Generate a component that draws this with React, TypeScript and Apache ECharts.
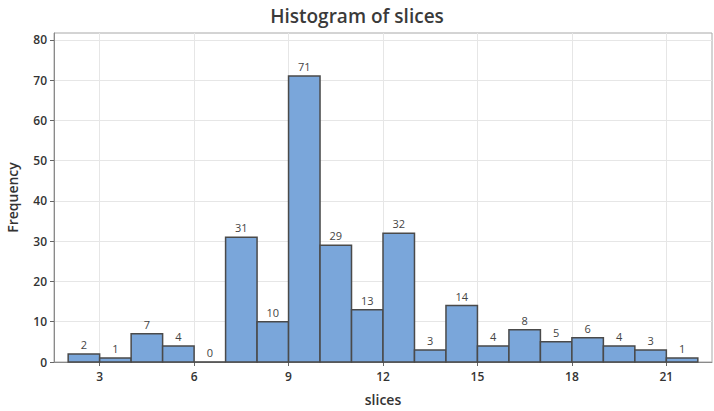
import React, { useEffect, useRef } from "react";
import * as echarts from "echarts";

const binEdges = [2, 3, 4, 5, 6, 7, 8, 9, 10, 11, 12, 13, 14, 15, 16, 17, 18, 19, 20, 21, 22];
const counts = [2, 1, 7, 4, 0, 31, 10, 71, 29, 13, 32, 3, 14, 4, 8, 5, 6, 4, 3, 1];
const xTicks = [3, 6, 9, 12, 15, 18, 21];
const yTicks = [0, 10, 20, 30, 40, 50, 60, 70, 80];

export default function App() {
  const ref = useRef<HTMLDivElement>(null);
  useEffect(() => {
    if (!ref.current) return;
    const chart = echarts.init(ref.current, null, { renderer: "svg" });
    const data = counts.map((c, i) => [binEdges[i], binEdges[i + 1], c]);
    const font = '"Open Sans", "Noto Sans", sans-serif';
    chart.setOption({
      animation: false,
      backgroundColor: "#ffffff",
      title: {
        text: "Histogram of slices",
        left: "center",
        top: 1,
        textStyle: { fontFamily: font, fontSize: 19, fontWeight: 600, color: "#3a3a3a" },
      },
      grid: {
        left: 54,
        right: 2,
        top: 33,
        bottom: 49,
        show: true,
        borderColor: "#a8a8a8",
        borderWidth: 1,
        outerBoundsMode: "none",
        containLabel: false,
      },
      xAxis: {
        type: "value",
        min: 1.55,
        max: 22.45,
        name: "slices",
        nameLocation: "middle",
        nameGap: 30,
        nameTextStyle: { fontFamily: font, fontSize: 14, color: "#333", fontWeight: 600 },
        axisLine: { show: true, lineStyle: { color: "#8a8a8a" } },
        axisTick: { show: true, length: 4, customValues: xTicks, lineStyle: { color: "#666" } },
        axisLabel: { customValues: xTicks, fontFamily: font, fontSize: 12, fontWeight: 600, color: "#333", margin: 8 },
        splitLine: { show: true, lineStyle: { color: "#e6e6e6" } },
      },
      yAxis: {
        type: "value",
        min: 0,
        max: 81.7,
        name: "Frequency",
        nameLocation: "middle",
        nameGap: 35,
        nameTextStyle: { fontFamily: font, fontSize: 14, color: "#333", fontWeight: 600 },
        axisLine: { show: true, lineStyle: { color: "#8a8a8a" } },
        axisTick: { show: true, length: 4, customValues: yTicks, lineStyle: { color: "#666" } },
        axisLabel: { customValues: yTicks, fontFamily: font, fontSize: 12, fontWeight: 600, color: "#333", margin: 7 },
        splitLine: { show: true, lineStyle: { color: "#e6e6e6" } },
      },
      series: [
        {
          type: "custom",
          data,
          encode: { x: [0, 1], y: 2 },
          renderItem: (params: any, api: any) => {
            const tl = api.coord([api.value(0), api.value(2)]);
            const br = api.coord([api.value(1), 0]);
            return {
              type: "group",
              children: [
                {
                  type: "rect",
                  shape: { x: tl[0], y: tl[1], width: br[0] - tl[0], height: br[1] - tl[1] },
                  style: { fill: "#7aa6da", stroke: "#4a4a4a", lineWidth: 1.5 },
                },
                {
                  type: "text",
                  style: {
                    text: String(api.value(2)),
                    x: (tl[0] + br[0]) / 2,
                    y: tl[1] - 4,
                    align: "center",
                    verticalAlign: "bottom",
                    fill: "#444",
                    font: '11px "Open Sans", sans-serif',
                  },
                },
              ],
            };
          },
        },
      ],
    });
    return () => chart.dispose();
  }, []);
  return <div ref={ref} style={{ position: "fixed", left: 0, top: 0, width: 714, height: 411 }} />;
}
